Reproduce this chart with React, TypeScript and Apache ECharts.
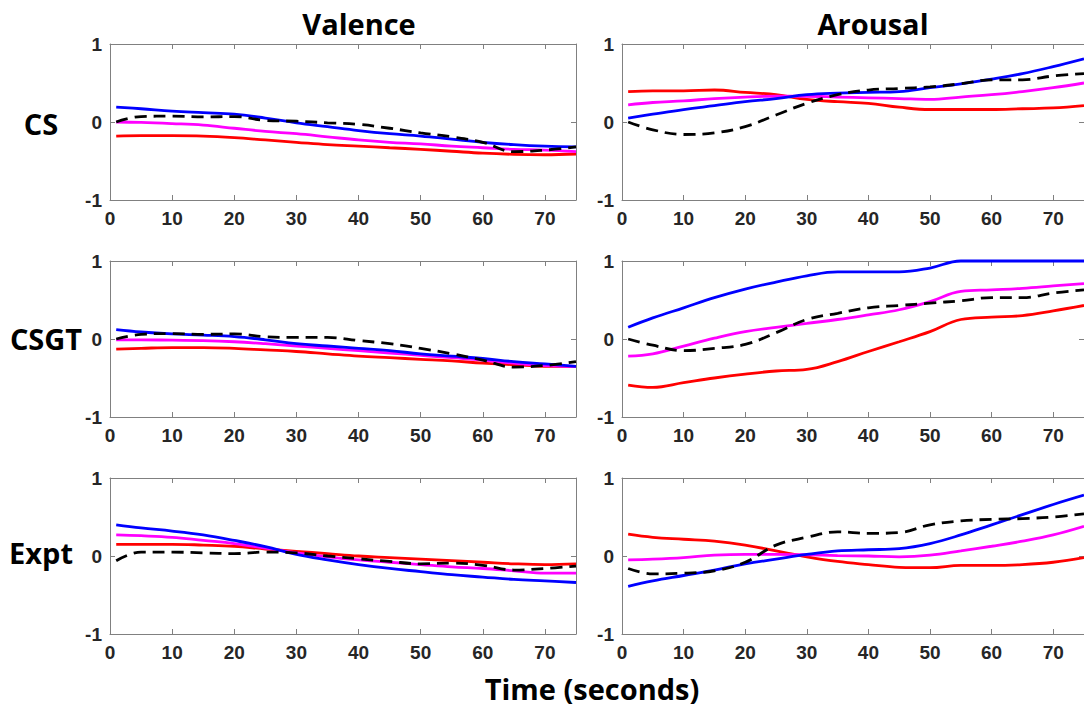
import React, { useEffect, useRef } from "react";
import * as echarts from "echarts";

// ---------- data ----------
const TIME = [1, 5, 10, 15, 20, 25, 30, 35, 40, 45, 50, 55, 60, 65, 70, 75];
const COLUMN_TITLES = ["Valence", "Arousal"];
const ROW_LABELS = ["CS", "CSGT", "Expt"];
const X_AXIS_TITLE = "Time (seconds)";

// CS – Valence
const CS_VAL_BLUE = [0.19, 0.17, 0.14, 0.12, 0.1, 0.05, -0.01, -0.06, -0.11, -0.15, -0.18, -0.22, -0.26, -0.29, -0.31, -0.32];
const CS_VAL_MAGENTA = [0.0, -0.005, -0.02, -0.04, -0.08, -0.12, -0.15, -0.19, -0.23, -0.26, -0.28, -0.31, -0.33, -0.35, -0.36, -0.38];
const CS_VAL_RED = [-0.18, -0.175, -0.175, -0.18, -0.2, -0.23, -0.26, -0.29, -0.31, -0.33, -0.35, -0.375, -0.4, -0.415, -0.42, -0.41];
const CS_VAL_BLACK = [0.0, 0.07, 0.075, 0.065, 0.07, 0.02, 0.01, -0.01, -0.03, -0.08, -0.14, -0.19, -0.26, -0.38, -0.36, -0.32];
// CS – Arousal
const CS_ARO_BLUE = [0.05, 0.1, 0.16, 0.21, 0.26, 0.3, 0.35, 0.37, 0.38, 0.39, 0.44, 0.49, 0.55, 0.62, 0.71, 0.81];
const CS_ARO_MAGENTA = [0.22, 0.25, 0.27, 0.3, 0.32, 0.33, 0.33, 0.32, 0.31, 0.3, 0.29, 0.32, 0.35, 0.39, 0.44, 0.5];
const CS_ARO_RED = [0.39, 0.4, 0.4, 0.41, 0.38, 0.35, 0.29, 0.26, 0.24, 0.19, 0.16, 0.16, 0.16, 0.17, 0.18, 0.21];
const CS_ARO_BLACK = [0.0, -0.1, -0.16, -0.14, -0.06, 0.09, 0.24, 0.35, 0.41, 0.43, 0.45, 0.49, 0.54, 0.54, 0.59, 0.62];
// CSGT – Valence
const CSGT_VAL_BLUE = [0.12, 0.09, 0.065, 0.05, 0.03, -0.01, -0.06, -0.09, -0.12, -0.15, -0.19, -0.22, -0.25, -0.29, -0.32, -0.35];
const CSGT_VAL_MAGENTA = [-0.01, -0.01, -0.015, -0.02, -0.035, -0.06, -0.09, -0.12, -0.15, -0.18, -0.21, -0.24, -0.27, -0.31, -0.34, -0.35];
const CSGT_VAL_RED = [-0.13, -0.12, -0.11, -0.11, -0.12, -0.14, -0.16, -0.19, -0.22, -0.24, -0.26, -0.28, -0.31, -0.33, -0.35, -0.35];
const CSGT_VAL_BLACK = [0.0, 0.06, 0.07, 0.06, 0.065, 0.03, 0.02, 0.02, -0.02, -0.06, -0.12, -0.19, -0.27, -0.36, -0.34, -0.29];
// CSGT – Arousal
const CSGT_ARO_BLUE = [0.15, 0.27, 0.4, 0.53, 0.64, 0.73, 0.81, 0.86, 0.86, 0.86, 0.91, 1.0, 1.0, 1.0, 1.0, 1.0];
const CSGT_ARO_MAGENTA = [-0.22, -0.19, -0.09, 0.01, 0.095, 0.15, 0.2, 0.25, 0.31, 0.375, 0.48, 0.61, 0.63, 0.65, 0.68, 0.71];
const CSGT_ARO_RED = [-0.59, -0.62, -0.56, -0.5, -0.45, -0.41, -0.39, -0.29, -0.16, -0.035, 0.095, 0.25, 0.28, 0.3, 0.36, 0.43];
const CSGT_ARO_BLACK = [0.0, -0.08, -0.15, -0.12, -0.07, 0.08, 0.25, 0.33, 0.4, 0.43, 0.46, 0.49, 0.53, 0.53, 0.59, 0.63];
// Expt – Valence
const EXPT_VAL_BLUE = [0.4, 0.36, 0.32, 0.27, 0.2, 0.12, 0.02, -0.05, -0.11, -0.16, -0.2, -0.24, -0.27, -0.3, -0.32, -0.34];
const EXPT_VAL_MAGENTA = [0.27, 0.26, 0.24, 0.2, 0.16, 0.1, 0.04, -0.01, -0.05, -0.08, -0.11, -0.14, -0.16, -0.19, -0.22, -0.22];
const EXPT_VAL_RED = [0.15, 0.15, 0.15, 0.14, 0.125, 0.09, 0.06, 0.03, 0.0, -0.02, -0.04, -0.06, -0.08, -0.1, -0.11, -0.1];
const EXPT_VAL_BLACK = [-0.06, 0.05, 0.05, 0.04, 0.03, 0.05, 0.04, 0.0, -0.035, -0.07, -0.1, -0.09, -0.12, -0.18, -0.16, -0.13];
// Expt – Arousal
const EXPT_ARO_BLUE = [-0.39, -0.32, -0.25, -0.18, -0.1, -0.04, 0.02, 0.065, 0.08, 0.095, 0.16, 0.27, 0.4, 0.53, 0.66, 0.78];
const EXPT_ARO_MAGENTA = [-0.05, -0.04, -0.02, 0.01, 0.02, 0.02, 0.015, 0.005, 0.0, -0.01, 0.01, 0.065, 0.125, 0.19, 0.27, 0.38];
const EXPT_ARO_RED = [0.28, 0.24, 0.215, 0.19, 0.14, 0.065, -0.01, -0.07, -0.11, -0.145, -0.15, -0.12, -0.12, -0.11, -0.08, -0.02];
const EXPT_ARO_BLACK = [-0.16, -0.23, -0.22, -0.19, -0.08, 0.14, 0.24, 0.31, 0.29, 0.3, 0.4, 0.45, 0.47, 0.48, 0.5, 0.54];

const PANELS = [
  { row: 0, col: 0, red: CS_VAL_RED, magenta: CS_VAL_MAGENTA, blue: CS_VAL_BLUE, black: CS_VAL_BLACK },
  { row: 0, col: 1, red: CS_ARO_RED, magenta: CS_ARO_MAGENTA, blue: CS_ARO_BLUE, black: CS_ARO_BLACK },
  { row: 1, col: 0, red: CSGT_VAL_RED, magenta: CSGT_VAL_MAGENTA, blue: CSGT_VAL_BLUE, black: CSGT_VAL_BLACK },
  { row: 1, col: 1, red: CSGT_ARO_RED, magenta: CSGT_ARO_MAGENTA, blue: CSGT_ARO_BLUE, black: CSGT_ARO_BLACK },
  { row: 2, col: 0, red: EXPT_VAL_RED, magenta: EXPT_VAL_MAGENTA, blue: EXPT_VAL_BLUE, black: EXPT_VAL_BLACK },
  { row: 2, col: 1, red: EXPT_ARO_RED, magenta: EXPT_ARO_MAGENTA, blue: EXPT_ARO_BLUE, black: EXPT_ARO_BLACK },
];

// ---------- layout / style ----------
const GRID_LEFT = [110, 622];
const GRID_WIDTH = [466, 467];
const GRID_TOP = [44, 261, 478];
const GRID_HEIGHT = 156;
const TITLE_X = [359, 873];
const ROW_LABEL_X = [41, 46, 41];
const ROW_LABEL_Y = [123, 338, 552];
const AXIS_COLOR = "#808080";
const TICK_TEXT = "#262626";
const BIG_FONT = "'Open Sans', 'DejaVu Sans', sans-serif";
const TICK_FONT = "'Liberation Sans', Arial, sans-serif";

export default function App() {
  const ref = useRef<HTMLDivElement>(null);

  useEffect(() => {
    if (!ref.current) return;
    const chart = echarts.init(ref.current, undefined, { renderer: "svg" });

    const grids: any[] = [];
    const xAxes: any[] = [];
    const yAxes: any[] = [];
    const series: any[] = [];

    const lineAxis = { show: true, onZero: false, lineStyle: { color: AXIS_COLOR, width: 1 } };
    const tick = { show: true, inside: true, length: 5, lineStyle: { color: AXIS_COLOR, width: 1 } };
    const label = {
      fontSize: 19,
      fontWeight: "bold",
      color: TICK_TEXT,
      fontFamily: TICK_FONT,
    };

    PANELS.forEach((p, i) => {
      grids.push({
        left: GRID_LEFT[p.col],
        top: GRID_TOP[p.row],
        width: GRID_WIDTH[p.col],
        height: GRID_HEIGHT,
        containLabel: false,
      });
      xAxes.push({
        type: "value",
        gridIndex: i,
        position: "bottom",
        min: 0,
        max: 75,
        interval: 10,
        axisLine: lineAxis,
        axisTick: tick,
        splitLine: { show: false },
        axisLabel: { ...label, margin: 9, showMaxLabel: false },
      });
      xAxes.push({
        type: "value",
        gridIndex: i,
        position: "top",
        min: 0,
        max: 75,
        interval: 10,
        axisLine: lineAxis,
        axisTick: tick,
        splitLine: { show: false },
        axisLabel: { show: false },
      });
      yAxes.push({
        type: "value",
        gridIndex: i,
        position: "left",
        min: -1,
        max: 1,
        interval: 1,
        axisLine: lineAxis,
        axisTick: tick,
        splitLine: { show: false },
        axisLabel: { ...label, margin: 8 },
      });
      yAxes.push({
        type: "value",
        gridIndex: i,
        position: "right",
        min: -1,
        max: 1,
        interval: 1,
        axisLine: lineAxis,
        axisTick: tick,
        splitLine: { show: false },
        axisLabel: { show: false },
      });

      const lines: [number[], string, boolean][] = [
        [p.red, "#ff0000", false],
        [p.magenta, "#ff00ff", false],
        [p.blue, "#0000ff", false],
        [p.black, "#000000", true],
      ];
      lines.forEach(([vals, color, dashed]) => {
        series.push({
          type: "line",
          xAxisIndex: 2 * i,
          yAxisIndex: 2 * i,
          data: TIME.map((t, k) => [t, vals[k]]),
          showSymbol: false,
          smooth: 0.4,
          clip: false,
          lineStyle: { color, width: 2.8, type: dashed ? [12, 7] : "solid" },
          itemStyle: { color },
          silent: true,
        });
      });
    });

    const bigText = (text: string, x: number, y: number) => ({
      type: "text",
      x,
      y,
      silent: true,
      style: {
        text,
        x: 0,
        y: 0,
        textAlign: "center",
        textVerticalAlign: "middle",
        fontSize: 29,
        fontWeight: "bold",
        fontFamily: BIG_FONT,
        fill: "#000000",
      },
    });

    const graphics: any[] = [];
    COLUMN_TITLES.forEach((t, c) => graphics.push(bigText(t, TITLE_X[c], 23)));
    ROW_LABELS.forEach((t, r) => graphics.push(bigText(t, ROW_LABEL_X[r], ROW_LABEL_Y[r])));
    graphics.push(bigText(X_AXIS_TITLE, 592, 688));

    chart.setOption({
      animation: false,
      backgroundColor: "#ffffff",
      grid: grids,
      xAxis: xAxes,
      yAxis: yAxes,
      series,
      graphic: graphics,
    });

    return () => chart.dispose();
  }, []);

  return (
    <div
      ref={ref}
      style={{ position: "fixed", left: 0, top: 0, width: 1084, height: 707, background: "#fff" }}
    />
  );
}
